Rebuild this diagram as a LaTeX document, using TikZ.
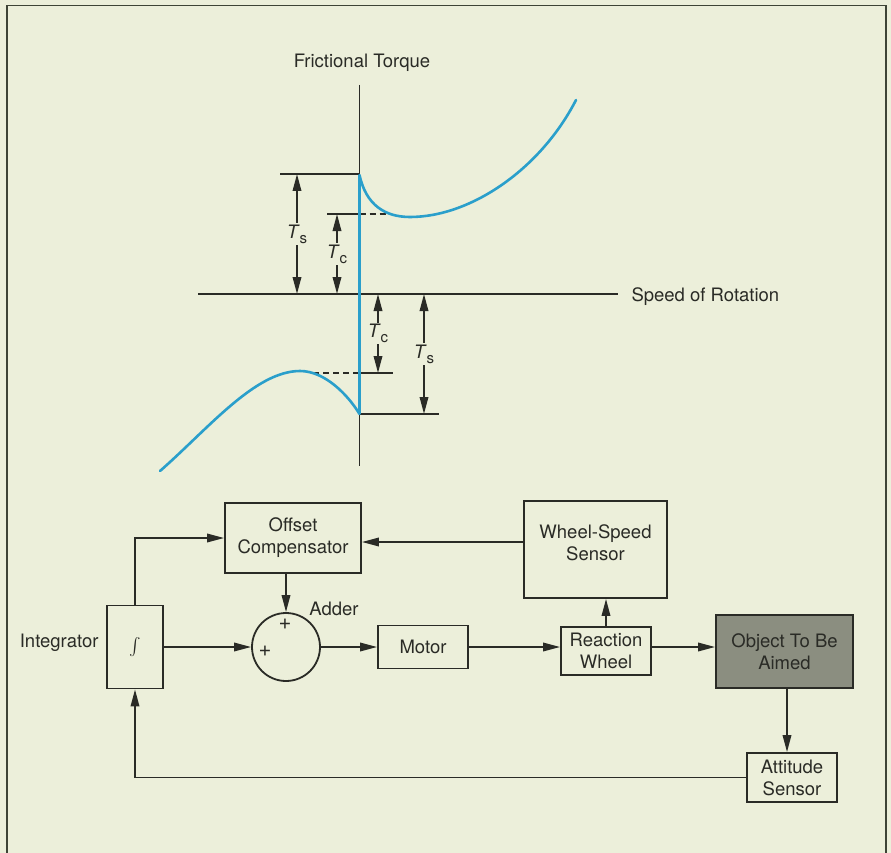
\documentclass[tikz,border=0pt]{standalone}
\usepackage{amsmath}
\usepackage{fontspec}
\setmainfont{TeX Gyre Heros}
\usetikzlibrary{arrows.meta}
\definecolor{bg}{HTML}{ECEFDA}
\definecolor{ink}{HTML}{2A2B26}
\definecolor{curvecol}{HTML}{2A9FCB}
\definecolor{objfill}{HTML}{8B8E80}
\definecolor{framecol}{HTML}{3E4436}
\newcommand{\Tlab}[1]{\textit{T}\raisebox{-0.5ex}{\fontsize{15}{15}\selectfont #1}}
\begin{document}
\begin{tikzpicture}[x=1pt,y=-1pt,
  every node/.style={font=\fontsize{18.5}{22}\selectfont, text=ink},
  ln/.style={draw=ink, line width=1.8pt},
  dsh/.style={draw=ink, line width=1.5pt, dash pattern=on 6pt off 4pt},
  box/.style={draw=ink, line width=1.8pt, rectangle, inner sep=0pt, align=center},
  tip/.tip={Triangle[length=17pt,width=8.5pt]},
  arr/.style={ln, -tip},
  darr/.style={ln, tip-tip},
  lbl/.style={fill=bg, inner sep=1.5pt},
  blue/.style={draw=curvecol, line width=2.6pt, line join=round, line cap=round}]
\fill[bg] (0,0) rectangle (891,853);
\useasboundingbox (0,0) rectangle (891,853);
\draw[draw=framecol, line width=1.6pt] (7,853) -- (7,5.5) -- (886,5.5) -- (886,853);

% ---------- graph ----------
\node (ft) at (362,63) {Frictional Torque};
\node[anchor=west] (speed) at (628,297) {Speed of Rotation};
\draw[ln] (359.5,85) -- (359.5,466);
\draw[ln] (198,294) -- (618,294);
\draw[ln] (280,174) -- (359.5,174);
\draw[ln] (327,214) -- (359.5,214);
\draw[dsh] (359.5,214) -- (390,214);
\draw[ln] (359.5,373) -- (393,373);
\draw[dsh] (313,373) -- (359.5,373);
\draw[ln] (359.5,414) -- (439,414);
\draw[darr] (297,174) -- node[lbl] (ts1) {\Tlab{s}} (297,294);
\draw[darr] (337,214) -- node[lbl] (tc1) {\Tlab{c}} (337,294);
\draw[darr] (378,294) -- node[lbl] (tc2) {\Tlab{c}} (378,373);
\draw[darr] (424,294) -- node[lbl] (ts2) {\Tlab{s}} (424,414);
\draw[blue] (359.5,175) .. controls (366,205) and (385,217) .. (410,217)
  .. controls (470,217) and (540,170) .. (576,100);
\draw[blue] (160,471) .. controls (208,429) and (255,371) .. (300,371)
  .. controls (325,371) and (348,395) .. (359.5,414);
\draw[blue, line cap=butt] (359.5,175) -- (359.5,414);

% ---------- block diagram ----------
\node[box, minimum width=136pt, minimum height=70pt] (oc) at (293,538) {Offset\\Compensator};
\node[box, minimum width=56pt, minimum height=83pt] (int) at (135,647) {$\int$};
\node[anchor=east] (intlbl) at (102,643) {Integrator};
\node[draw=ink, line width=1.8pt, circle, minimum size=68pt, inner sep=0pt] (adder) at (286,647) {};
\node[font=\fontsize{22}{22}\selectfont] (plus1) at (285,624) {+};
\node[font=\fontsize{22}{22}\selectfont] (plus2) at (265,651) {+};
\node (addlbl) at (334,609) {Adder};
\node[box, minimum width=90pt, minimum height=43pt] (motor) at (423,647) {Motor};
\node[box, minimum width=90pt, minimum height=48pt] (rw) at (606,651) {Reaction\\Wheel};
\node[box, minimum width=143pt, minimum height=97pt] (wss) at (595.5,549.5) {};
\node[align=center] (wsst) at (595.5,543) {Wheel-Speed\\Sensor};
\node[box, fill=objfill, minimum width=137pt, minimum height=73pt] (obj) at (784.5,651.5) {Object To Be\\Aimed};
\node[box, minimum width=90pt, minimum height=49pt] (att) at (792,777.5) {Attitude\\Sensor};

\draw[arr] (int.north) |- (oc.west);
\draw[arr] (int.east) -- (adder.west);
\draw[arr] (adder.north |- oc.south) -- (adder.north);
\draw[arr] (adder.east) -- (adder.east -| motor.west);
\draw[arr] (motor.east) -- (motor.east -| rw.west);
\draw[arr] (rw.north) -- (rw.north |- wss.south);
\draw[arr] ([yshift=-4pt]oc.east -| wss.west) -- ([yshift=-4pt]oc.east);
\draw[arr] (motor.east -| rw.east) -- (motor.east -| obj.west);
\draw[arr] ([xshift=2.5pt]obj.south) -- ([xshift=2.5pt]obj.south |- att.north);
\draw[arr] (att.west) -| (int.south);
\end{tikzpicture}
\end{document}
